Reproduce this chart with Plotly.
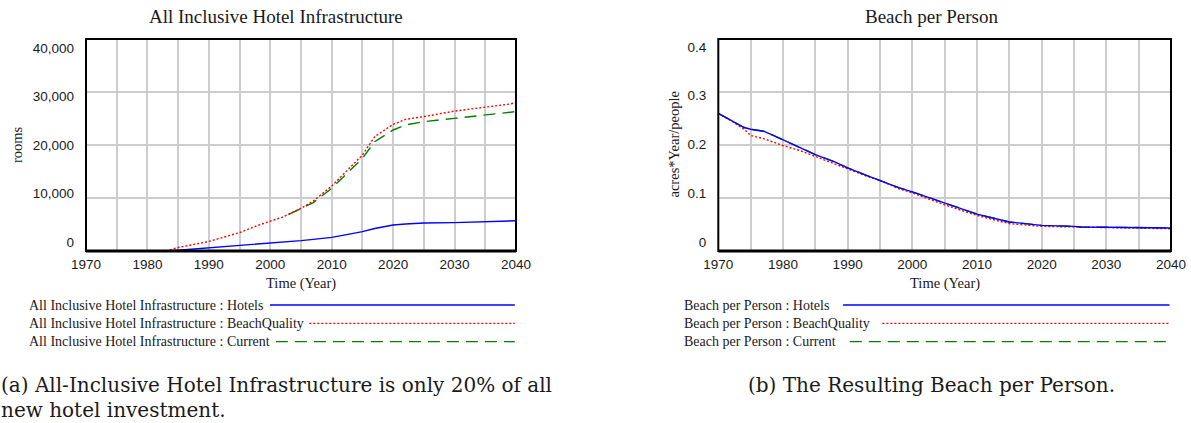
import plotly.graph_objects as go

# ---------------- data ----------------
# Panel (a): All Inclusive Hotel Infrastructure (rooms)
years_a = [1970, 1975, 1980, 1983, 1985, 1987, 1990, 1993, 1995, 1998, 2000, 2002,
           2005, 2007, 2010, 2012, 2015, 2017, 2020, 2022, 2025, 2030, 2035, 2039, 2040]
hotels_a = [0, 0, 0, 0, 150, 330, 520, 770, 970, 1230, 1420, 1600,
            1950, 2200, 2580, 3000, 3650, 4250, 4900, 5100, 5280, 5350, 5470, 5550, 5700]
beachq_a = [0, 0, 0, 0, 650, 1150, 1800, 2800, 3480, 4840, 5600, 6400,
            8050, 9430, 12260, 14650, 18110, 21570, 23900, 24840, 25350, 26400, 27100, 27740, 28000]
years_cur_a = [2003, 2005, 2007, 2010, 2012, 2015, 2017, 2020, 2022, 2025, 2030, 2035, 2039, 2040]
current_a = [6900, 8000, 9120, 11820, 14030, 17480, 20630, 22830, 23770, 24400, 25030, 25660, 26100, 26300]

# Panel (b): Beach per Person (acres*Year/people)
years_b = [1970, 1972, 1974, 1975, 1977, 1978.5, 1980, 1982.5, 1985, 1988, 1990, 1993, 1995,
           1998, 2000, 2005, 2010, 2015, 2020, 2025, 2026, 2030, 2035, 2036, 2040]
hotels_b = [0.2595, 0.247, 0.233, 0.2297, 0.226, 0.218, 0.210, 0.196, 0.182, 0.168, 0.157, 0.1424,
            0.133, 0.119, 0.1116, 0.0903, 0.0697, 0.0548, 0.0484, 0.0465, 0.0452, 0.0448, 0.0445,
            0.0436, 0.0435]
beachq_b = [0.2595, 0.2456, 0.2297, 0.218, 0.212, 0.205, 0.199, 0.19, 0.178, 0.164, 0.155, 0.141,
            0.133, 0.117, 0.1097, 0.0871, 0.0671, 0.0516, 0.0465, 0.0452, 0.0447, 0.0439, 0.0432,
            0.0428, 0.042]
current_b = [0.2595, 0.247, 0.233, 0.2297, 0.226, 0.218, 0.210, 0.196, 0.182, 0.168, 0.157, 0.1424,
             0.133, 0.119, 0.1116, 0.0903, 0.0697, 0.0548, 0.0484, 0.0465, 0.0452, 0.0448, 0.0445,
             0.0436, 0.0435]

x_ticks = [1970, 1980, 1990, 2000, 2010, 2020, 2030, 2040]
y_ticks_a = [0, 10000, 20000, 30000, 40000]
y_ticklabels_a = ["0", "10,000", "20,000", "30,000", "40,000"]
y_ticks_b = [0, 0.1, 0.2, 0.3, 0.4]
y_ticklabels_b = ["0", "0.1", "0.2", "0.3", "0.4"]

title_a = "All Inclusive Hotel Infrastructure"
title_b = "Beach per Person"
ylabel_a = "rooms"
ylabel_b = "acres*Year/people"
xlabel = "Time (Year)"
series_names = ["Hotels", "BeachQuality", "Current"]
caption_a = ["(a) All-Inclusive Hotel Infrastructure is only 20% of all", "new hotel investment."]
caption_b = "(b) The Resulting Beach per Person."

# ---------------- geometry / style ----------------
W, H = 1191, 423
def px(x):
    return x / W
def py(y):
    return 1 - y / H

SERIF = "Liberation Serif"
CAPFONT = "DejaVu Serif"
SANS = "Liberation Sans"
TXT = "#1a1a1a"
GRID = "#cdcdcd"
BLUE, RED, GREEN = "#0000ff", "#ff0000", "#008000"
DOT = "2px,2px"
LDASH = "12px,7px"

top, bottom = 39, 251
ydom = [py(bottom), py(top)]
panel_a = (86, 516)
panel_b = (718.3, 1171)

fig = go.Figure()

def add_series(xa, ya, x, y, color, dash, width=1.4):
    fig.add_trace(go.Scatter(x=x, y=y, mode="lines", xaxis=xa, yaxis=ya,
                             line=dict(color=color, width=width, dash=dash),
                             showlegend=False, hoverinfo="skip"))

# panel a
add_series("x", "y", years_cur_a, current_a, GREEN, LDASH)
add_series("x", "y", years_a, beachq_a, RED, DOT)
add_series("x", "y", years_a, hotels_a, BLUE, "solid")
# panel b
add_series("x2", "y2", years_b, current_b, GREEN, LDASH)
add_series("x2", "y2", years_b, beachq_b, RED, DOT)
add_series("x2", "y2", years_b, hotels_b, BLUE, "solid")
# dummy traces so that the label axes are drawn
fig.add_trace(go.Scatter(x=[None], y=[None], xaxis="x", yaxis="y3", showlegend=False, hoverinfo="skip"))
fig.add_trace(go.Scatter(x=[None], y=[None], xaxis="x2", yaxis="y4", showlegend=False, hoverinfo="skip"))

def xaxis_cfg(dom):
    return dict(domain=[px(dom[0]), px(dom[1])], range=[1970, 2040], tickvals=x_ticks,
                showgrid=True, gridcolor=GRID, gridwidth=1.5, zeroline=False, showline=False,
                ticks="", ticklabelstandoff=3, automargin=False,
                tickfont=dict(family=SANS, size=13.5, color=TXT),
                minor=dict(dtick=5, tick0=1970, showgrid=True, gridcolor=GRID, gridwidth=1.5))

def ygrid_cfg(rng, dt, anchor):
    return dict(domain=ydom, range=rng, dtick=dt, tick0=0, showgrid=True, gridcolor=GRID,
                gridwidth=1.5, showticklabels=False, zeroline=False, showline=False,
                ticks="", anchor=anchor, automargin=False)

def ylab_cfg(rng, vals, labels, over, anchor):
    return dict(overlaying=over, anchor=anchor, side="left", range=rng, tickvals=vals,
                ticktext=labels, showgrid=False, zeroline=False, showline=False, ticks="",
                ticklabelstandoff=11, automargin=False,
                tickfont=dict(family=SANS, size=13.5, color=TXT))

fig.update_layout(
    width=W, height=H, autosize=False,
    margin=dict(l=0, r=0, t=0, b=0, pad=0),
    paper_bgcolor="white", plot_bgcolor="white",
    xaxis=dict(xaxis_cfg(panel_a), anchor="y"),
    xaxis2=dict(xaxis_cfg(panel_b), anchor="y2"),
    yaxis=ygrid_cfg([0, 40000], 10000, "x"),
    yaxis2=ygrid_cfg([0, 0.4], 0.1, "x2"),
    yaxis3=ylab_cfg([-1791, 41853], y_ticks_a, y_ticklabels_a, "y", "x"),
    yaxis4=ylab_cfg([-0.0185, 0.4164], y_ticks_b, y_ticklabels_b, "y2", "x2"),
)

shapes = []
for (l, r) in (panel_a, panel_b):
    shapes.append(dict(type="rect", xref="paper", yref="paper", x0=px(l), x1=px(r),
                       y0=py(bottom), y1=py(top), line=dict(color="black", width=2)))
    shapes.append(dict(type="line", xref="paper", yref="paper", x0=px(l), x1=px(r),
                       y0=py(bottom), y1=py(bottom), line=dict(color="black", width=3)))

annotations = []
def text(x, y, s, size, family=SERIF, xanchor="center", angle=0):
    annotations.append(dict(x=px(x), y=py(y), xref="paper", yref="paper", text=s,
                            showarrow=False, xanchor=xanchor, yanchor="middle",
                            textangle=angle, font=dict(family=family, size=size, color=TXT)))

# titles and axis titles
text(276, 17, title_a, 19)
text(931, 17, title_b, 19)
text(301, 283, xlabel, 14.5)
text(944.5, 283, xlabel, 14.5)
text(17, 145, ylabel_a, 14.5, angle=-90)
text(673.5, 145, ylabel_b, 14.5, angle=-90)

# legends
leg_y = [305, 323.3, 341.7]
leg_colors = [BLUE, RED, GREEN]
leg_dash = ["solid", DOT, LDASH]
leg_a_start = [270, 309.3, 275.9]
leg_b_start = [843.1, 882.4, 849.8]
for i, name in enumerate(series_names):
    text(26.9, leg_y[i], f"{title_a} : {name}", 14, xanchor="left")
    text(681.5, leg_y[i], f"{title_b} : {name}", 14, xanchor="left")
    shapes.append(dict(type="line", xref="paper", yref="paper", x0=px(leg_a_start[i]), x1=px(514.8),
                       y0=py(leg_y[i]), y1=py(leg_y[i]),
                       line=dict(color=leg_colors[i], width=1.3, dash=leg_dash[i])))
    shapes.append(dict(type="line", xref="paper", yref="paper", x0=px(leg_b_start[i]), x1=px(1169.5),
                       y0=py(leg_y[i]), y1=py(leg_y[i]),
                       line=dict(color=leg_colors[i], width=1.3, dash=leg_dash[i])))

# captions
text(-1, 385, caption_a[0], 20, family=CAPFONT, xanchor="left")
text(-1, 410, caption_a[1], 20, family=CAPFONT, xanchor="left")
text(931.6, 385, caption_b, 20, family=CAPFONT)

fig.update_layout(shapes=shapes, annotations=annotations)
fig.write_html("out.html", config={"displayModeBar": False},
               post_script="document.body.style.margin='0px';")
